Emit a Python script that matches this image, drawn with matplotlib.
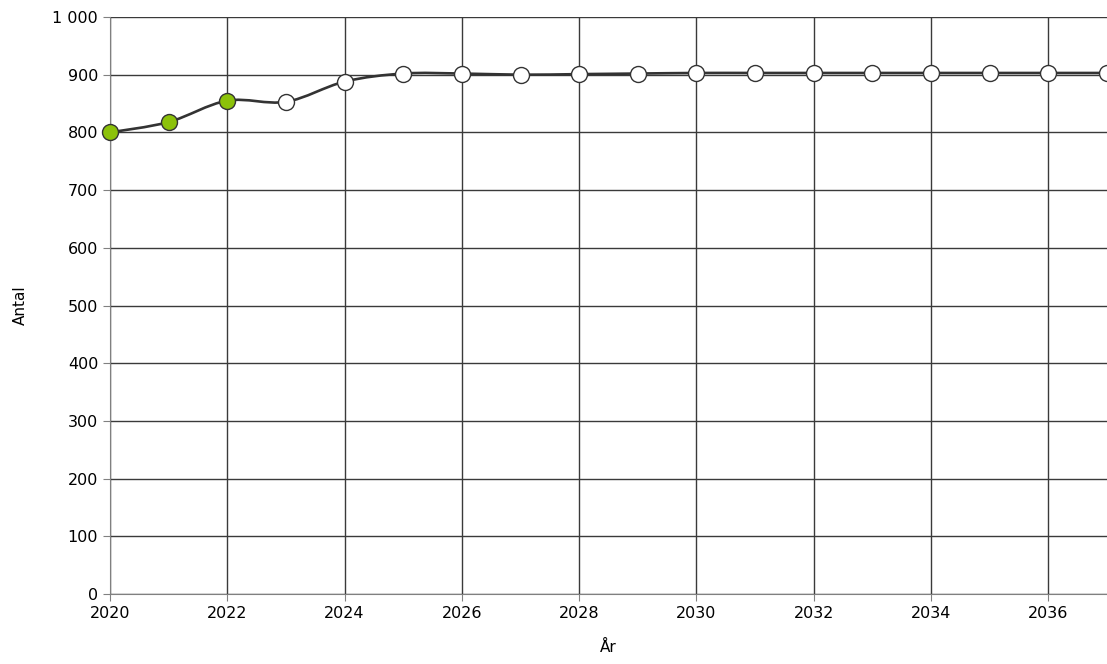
import numpy as np
import matplotlib.pyplot as plt
from matplotlib.path import Path
from matplotlib.patches import PathPatch
from matplotlib.ticker import FuncFormatter

# Antal per år, utfall (grön) och prognos (vit)
years = [2020, 2021, 2022, 2023, 2024, 2025, 2026, 2027, 2028,
         2029, 2030, 2031, 2032, 2033, 2034, 2035, 2036, 2037]
values = [800, 818, 855, 853, 888, 902, 902, 900, 901,
          902, 903, 903, 903, 903, 903, 903, 903, 903]
n_outcome = 3

green = '#8cc20a'
edge = '#333333'

fig = plt.figure(figsize=(11.07, 6.64), dpi=100)
ax = fig.add_axes([110 / 1107, 70 / 664, 997 / 1107, 577 / 664])

# smooth line (Catmull-Rom as cubic Bezier segments, like Excel's smoothed line)
x = np.array(years, dtype=float)
y = np.array(values, dtype=float)
verts = [(x[0], y[0])]
codes = [Path.MOVETO]
for i in range(len(x) - 1):
    p0 = (x[max(i - 1, 0)], y[max(i - 1, 0)])
    p1 = (x[i], y[i])
    p2 = (x[i + 1], y[i + 1])
    p3 = (x[min(i + 2, len(x) - 1)], y[min(i + 2, len(x) - 1)])
    c1 = (p1[0] + (p2[0] - p0[0]) / 6, p1[1] + (p2[1] - p0[1]) / 6)
    c2 = (p2[0] - (p3[0] - p1[0]) / 6, p2[1] - (p3[1] - p1[1]) / 6)
    verts += [c1, c2, p2]
    codes += [Path.CURVE4] * 3
ax.add_patch(PathPatch(Path(verts, codes), fill=False, edgecolor=edge,
                       lw=1.9, zorder=3, clip_on=False))

ax.plot(years[:n_outcome], values[:n_outcome], 'o', ms=11.5, mfc=green,
        mec=edge, mew=1.0, zorder=4, clip_on=False)
ax.plot(years[n_outcome:], values[n_outcome:], 'o', ms=11.5, mfc='white',
        mec=edge, mew=1.0, zorder=4, clip_on=False)

ax.set_xlim(2020, 2037)
ax.set_ylim(0, 1000)
ax.set_xticks(range(2020, 2037, 2))
ax.set_yticks(range(0, 1001, 100))
ax.yaxis.set_major_formatter(FuncFormatter(lambda v, p: f'{int(v):,}'.replace(',', ' ')))
ax.grid(True, color='#3a3a3a', lw=1.0)
ax.set_axisbelow(True)
for s in ['top', 'right']:
    ax.spines[s].set_visible(False)
for s in ['left', 'bottom']:
    ax.spines[s].set_color('#808080')
ax.tick_params(colors='#808080', labelcolor='black', labelsize=11.5, length=5)
ax.set_xlabel('År', fontsize=11, labelpad=14)
ax.set_ylabel('Antal', fontsize=11, labelpad=18)

fig.savefig('out.png', dpi=100)
